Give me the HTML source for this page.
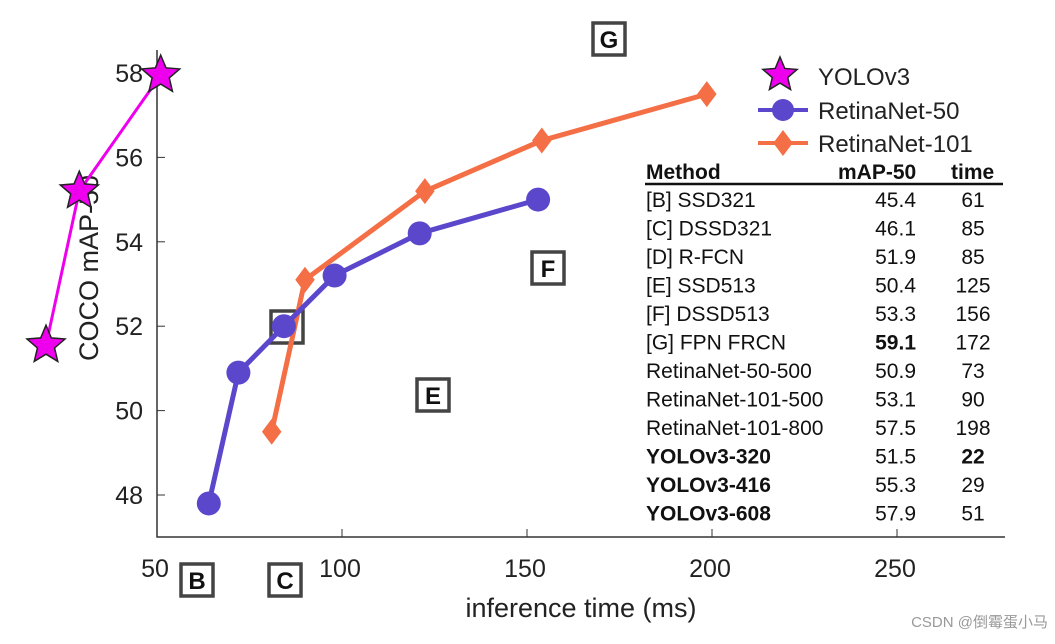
<!DOCTYPE html>
<html><head><meta charset="utf-8"><style>
body{margin:0;background:#fff;width:1055px;height:639px;overflow:hidden;font-family:"Liberation Sans",sans-serif}
</style></head><body>
<svg id="c" width="1055" height="639" xmlns="http://www.w3.org/2000/svg" font-family="Liberation Sans, sans-serif"></svg>
<script>
const yoloTime=[20,29,51];
const yoloMap=[51.55,55.2,57.95];
const r50Time=[64,72,84.3,98,121,153];
const r50Map=[47.8,50.9,52,53.2,54.2,55.0];
const r101Time=[81,90,122.4,154,198.6];
const r101Map=[49.5,53.1,55.2,56.4,57.5];
const xTicks=[50,100,150,200,250];
const yTicks=[48,50,52,54,56,58];
const tableRows=[["[B] SSD321","45.4","61"],["[C] DSSD321","46.1","85"],["[D] R-FCN","51.9","85"],["[E] SSD513","50.4","125"],["[F] DSSD513","53.3","156"],["[G] FPN FRCN","59.1","172"],["RetinaNet-50-500","50.9","73"],["RetinaNet-101-500","53.1","90"],["RetinaNet-101-800","57.5","198"],["YOLOv3-320","51.5","22"],["YOLOv3-416","55.3","29"],["YOLOv3-608","57.9","51"]];
const boldRow=[false,false,false,false,false,false,false,false,false,true,true,true];
const boldMap=[false,false,false,false,false,true,false,false,false,false,false,false];
const boldTime=[false,false,false,false,false,false,false,false,false,true,false,false];
const boxes=[["G",609,39],["F",548,268],["E",433,395],["D",287,327],["B",197,580],["C",285,580]];

const X=t=>157+(t-50)*3.7, Y=m=>495-(m-48)*42.2;
const s=document.getElementById('c'), NS='http://www.w3.org/2000/svg';
function el(tag,at,txt){const e=document.createElementNS(NS,tag);for(const k in at)e.setAttribute(k,at[k]);if(txt!=null)e.textContent=txt;s.appendChild(e);return e;}
let e;
e=el('path',{d:'M157 50V537H1005',fill:'none',stroke:'#333','stroke-width':1.5});


xTicks.forEach(t=>{el('line',{x1:X(t),x2:X(t),y1:537,y2:529,stroke:'#333'});
 e=el('text',{x:X(t)-2,y:577,'font-size':25,'text-anchor':'middle',fill:'#222'},t);
 
 });
yTicks.forEach(m=>{el('line',{x1:157,x2:165,y1:Y(m),y2:Y(m),stroke:'#333'});
 e=el('text',{x:143,y:Y(m)+9,'font-size':25,'text-anchor':'end',fill:'#222'},m);
 
 });
e=el('text',{x:581,y:617,'font-size':27,'text-anchor':'middle',fill:'#222'},'inference time (ms)');


e=el('text',{x:0,y:0,'font-size':27,'text-anchor':'middle',fill:'#222',transform:'translate(98,268) rotate(-90)'},'COCO mAP-50');


boxes.forEach(b=>{el('rect',{x:b[1]-16,y:b[2]-16,width:32,height:32,fill:'#fff',stroke:'#444','stroke-width':3.5});
 e=el('text',{x:b[1],y:b[2]+9,'font-size':24,'font-weight':'bold','text-anchor':'middle',fill:'#111'},b[0]);
 
 });
function star(cx,cy,r){let p='';for(let i=0;i<10;i++){const a=-Math.PI/2+i*Math.PI/5,rr=i%2?r*0.45:r;p+=(cx+rr*Math.cos(a))+','+(cy+rr*Math.sin(a))+' ';}
 return el('polygon',{points:p,fill:'#ee00ee',stroke:'#222','stroke-width':1.5});}
function diamond(cx,cy,r){return el('polygon',{points:`${cx},${cy-r} ${cx+r*0.75},${cy} ${cx},${cy+r} ${cx-r*0.75},${cy}`,fill:'#f46f45'});}
function line(ts,ms,col,w,name){e=el('polyline',{points:ts.map((t,i)=>X(t)+','+Y(ms[i])).join(' '),fill:'none',stroke:col,'stroke-width':w});
 
 }
line(r101Time,r101Map,'#f46f45',5,'retinanet-101-line');
r101Time.forEach((t,i)=>{e=diamond(X(t),Y(r101Map[i]),13);
 
 });
line(r50Time,r50Map,'#5b47cc',5,'retinanet-50-line');
r50Time.forEach((t,i)=>{e=el('circle',{cx:X(t),cy:Y(r50Map[i]),r:12,fill:'#5b47cc'});
 
 });
line(yoloTime,yoloMap,'#ee00ee',3,'yolov3-line');
yoloTime.forEach((t,i)=>{e=star(X(t),Y(yoloMap[i]),20);
 
 });
e=star(780,75,18);
el('line',{x1:758,x2:808,y1:110,y2:110,stroke:'#5b47cc','stroke-width':4});
el('circle',{cx:783,cy:110,r:11,fill:'#5b47cc'});
el('line',{x1:758,x2:808,y1:143,y2:143,stroke:'#f46f45','stroke-width':4});
diamond(783,143,13);
[['YOLOv3',85],['RetinaNet-50',119],['RetinaNet-101',152]].forEach(l=>{e=el('text',{x:818,y:l[1],'font-size':24,fill:'#222'},l[0]);
 
 });
[['Method',646],['mAP-50',838],['time',951]].forEach(h=>{e=el('text',{x:h[1],y:179,'font-size':21,'font-weight':'bold',fill:'#111'},h[0]);
 
 });
el('line',{x1:645,x2:1003,y1:184,y2:184,stroke:'#111','stroke-width':2.5});
tableRows.forEach((r,i)=>{const y=207+i*28.5;
 e=el('text',{x:646,y,'font-size':21,'font-weight':boldRow[i]?'bold':'normal',fill:'#111'},r[0]);
 
 e=el('text',{x:916,y,'font-size':21,'text-anchor':'end','font-weight':boldMap[i]?'bold':'normal',fill:'#111'},r[1]);
 
 e=el('text',{x:973,y,'font-size':21,'text-anchor':'middle','font-weight':boldTime[i]?'bold':'normal',fill:'#111'},r[2]);
 });
e=el('text',{x:1048,y:627,'font-size':15,'text-anchor':'end',fill:'#999'},'CSDN @倒霉蛋小马');

e.setAttribute('font-family','Liberation Sans, Noto Sans CJK SC, sans-serif');
</script>
</body></html>
